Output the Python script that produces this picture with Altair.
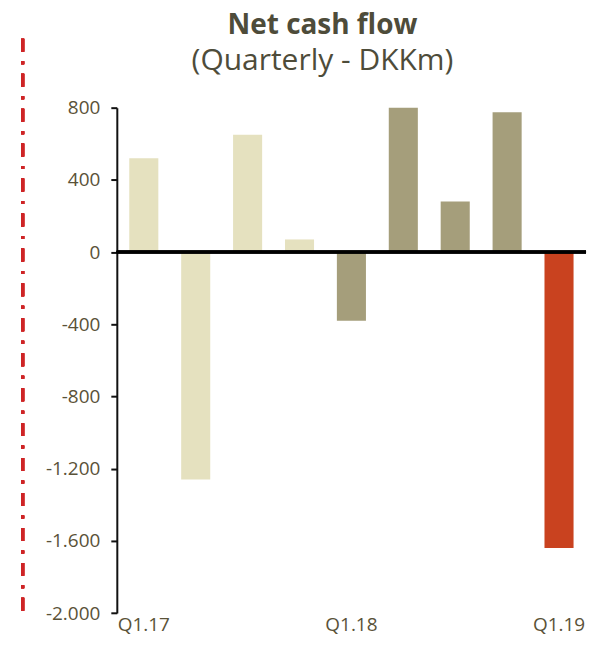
import altair as alt
import pandas as pd

quarters = ["Q1.17", "Q2.17", "Q3.17", "Q4.17", "Q1.18", "Q2.18", "Q3.18", "Q4.18", "Q1.19"]
values = [520, -1260, 650, 70, -380, 800, 280, 775, -1640]
years = ["2017", "2017", "2017", "2017", "2018", "2018", "2018", "2018", "2019"]
year_domain = ["2017", "2018", "2019"]
year_colors = ["#E5E1BF", "#A59E7B", "#C9421F"]
y_ticks = [-2000, -1600, -1200, -800, -400, 0, 400, 800]
x_labels = ["Q1.17", "Q1.18", "Q1.19"]

df = pd.DataFrame({"quarter": quarters, "value": values, "year": years})

FONT = "Open Sans"
TEXT = "#5A5238"

x_enc = alt.X(
    "quarter:N",
    sort=quarters,
    scale=alt.Scale(paddingInner=0.44, paddingOuter=0.24),
    axis=alt.Axis(
        title=None, values=x_labels, labelAngle=0, domain=False, ticks=False,
        labelPadding=2, labelFont=FONT, labelFontSize=19, labelColor=TEXT,
    ),
)
y_enc = alt.Y(
    "value:Q",
    scale=alt.Scale(domain=[-2000, 800], nice=False, zero=True),
    axis=alt.Axis(
        title=None, values=y_ticks, grid=False,
        labelExpr="replace(replace(format(datum.value, ','), ',', '.'), '\u2212', '-')",
        labelFont=FONT, labelFontSize=19, labelColor=TEXT, labelPadding=11,
        domainColor="#111111", domainWidth=2, tickColor="#111111", tickWidth=2, tickSize=6,
    ),
)

bars = alt.Chart(df).mark_bar().encode(
    x=x_enc,
    y=y_enc,
    color=alt.Color("year:N", scale=alt.Scale(domain=year_domain, range=year_colors), legend=None),
)

zero = alt.Chart(df).mark_rule(color="#000000", strokeWidth=2.5).encode(y=alt.datum(0))

deco = alt.Chart(df).mark_rule(
    color="#CE2426", strokeWidth=3, strokeDash=[13, 9.5, 3, 9.5]
).encode(x=alt.value(-94.3), y=alt.value(-69), y2=alt.value(508))

chart = alt.layer(bars, zero, deco).properties(
    width=470,
    height=506.3,
    autosize=alt.AutoSizeParams(type="none"),
    padding={"left": 109, "top": 99.3, "right": 5, "bottom": 30},
    title=alt.TitleParams(
        text="Net cash flow",
        subtitle="(Quarterly - DKKm)",
        font=FONT, fontSize=28, fontWeight="bold", color="#4E4C3A",
        subtitleFont=FONT, subtitleFontSize=30, subtitleFontWeight="normal",
        subtitleColor="#4E4C3A", subtitlePadding=6,
        anchor="middle", dx=-29, dy=72, offset=33,
    ),
).configure_view(stroke=None)

chart.save("out.html", embed_options={"renderer": "svg", "actions": False})
